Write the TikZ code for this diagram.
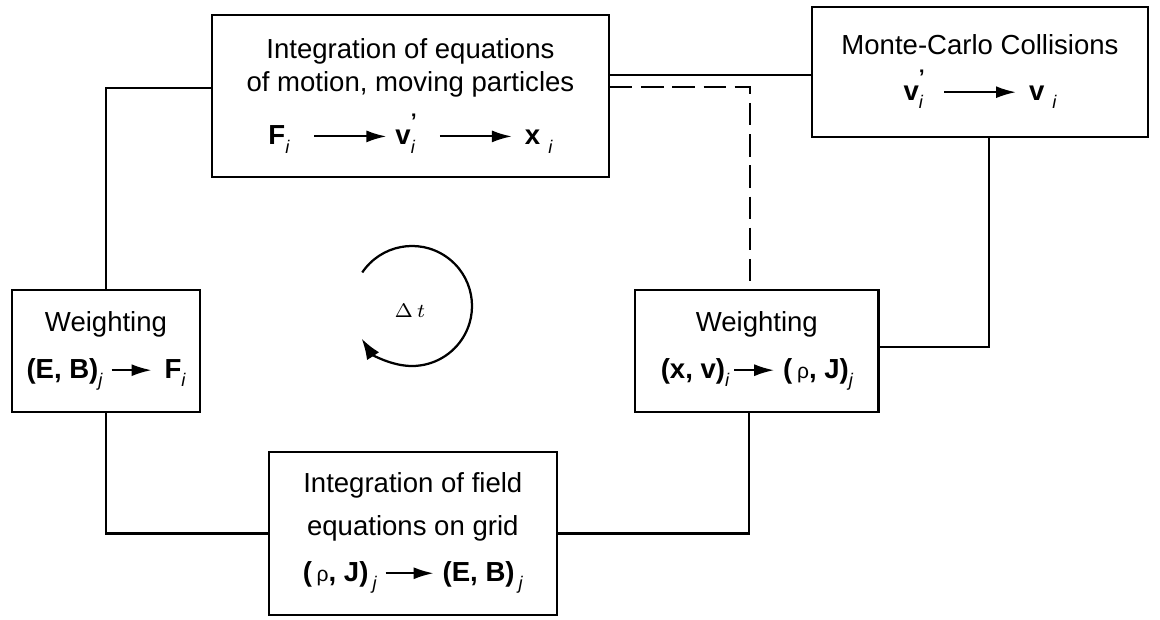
\documentclass[tikz,border=0pt]{standalone}
\usepackage{fontspec}
\setmainfont{Liberation Sans}
\usetikzlibrary{arrows.meta,positioning}

% subscript, prime, small arrow and rho used in the box formulas
\newcommand{\idx}[1]{\raisebox{-0.6ex}{\fontsize{6.5}{7}\selectfont\mdseries\itshape #1}}
\newcommand{\prm}{\rlap{\raisebox{1.1ex}{\fontsize{7.5}{7}\selectfont\bfseries '}}}
\newcommand{\longarr}[1]{\tikz[baseline=-0.55ex]\draw[line width=0.75pt, -{Latex[length=2.5mm,width=1.5mm]}] (0,0) -- (#1,0);}
\newcommand{\rh}{{\mdseries\fontsize{7.5}{8}\selectfont ρ}}

\begin{document}
\begin{tikzpicture}[
    font=\fontsize{9.8}{11.7}\selectfont,
    blk/.style={rectangle, draw=black, line width=0.8pt, align=center, inner sep=0pt},
    wire/.style={draw=black, line width=0.8pt},
    dwire/.style={wire, dash pattern=on 2.8mm off 1.1mm},
    turn/.style={line width=0.8pt, -{Latex[length=2.6mm,width=1.8mm]}}
]
\useasboundingbox (0,0) rectangle (14.5,7.7375);

% ---- Particle mover ----
\node[blk, minimum width=49.6mm, minimum height=20.25mm] (motion) at (5.13,6.54)
    {Integration of equations\\of motion, moving particles\\[5pt]
     \textbf{F}\idx{i}\hspace{3mm}\longarr{9mm}\hspace{1mm}\textbf{v}\prm\idx{i}\hspace{3mm}\longarr{9mm}\hspace{1.5mm}\textbf{x}\hspace{1mm}\idx{i}};

% ---- Collisions ----
\node[blk, minimum width=42mm, minimum height=16.25mm] (mcc) at (12.25,6.84)
    {Monte-Carlo Collisions\\[4.5pt]
     \textbf{v}\prm\idx{i}\hspace{2.5mm}\longarr{9mm}\hspace{1.5mm}\textbf{v}\hspace{1mm}\idx{i}};

% ---- Weightings ----
\node[blk, minimum width=23.5mm, minimum height=15.25mm] (wleft) at (1.325,3.35)
    {Weighting\\[5pt]\textbf{(E, B)}\idx{j}\hspace{1mm}\longarr{5mm}\hspace{1.5mm}\textbf{F}\idx{i}};
\node[blk, minimum width=30.4mm, minimum height=15.25mm] (wright) at (9.46,3.35)
    {Weighting\\[5pt]\textbf{(x, v)}\idx{i}\hspace{0.5mm}\longarr{5mm}\hspace{1mm}\textbf{(\,\rh, J)}\idx{j}};

% ---- Field solver ----
\node[blk, minimum width=36mm, minimum height=20.4mm] (field) at (5.16,1.07)
    {Integration of field\\[3.5pt]equations on grid\\[4.5pt]
     \textbf{(\,\rh, J)}\hspace{0.5mm}\idx{j}\hspace{1mm}\longarr{6mm}\hspace{1mm}\textbf{(E, B)}\hspace{0.5mm}\idx{j}};

% ---- Connections ----
\draw[wire] (wleft.north) |- ([yshift=1mm]motion.west);
\draw[wire] (wleft.south) |- (field.west);
\draw[wire] (field.east) -| ([xshift=-1mm]wright.south);
\draw[wire] ([yshift=0.5mm]wright.east) -| ([xshift=1.1mm]mcc.south);
\coordinate (mtop) at ([yshift=2.6mm]motion.east);
\draw[wire] (mtop) -- (mtop -| mcc.west);
\coordinate (mdash) at ([yshift=1.1mm]motion.east);
\draw[dwire] (mdash) -| ([xshift=-0.85mm]wright.north);

% ---- Time step loop ----
\coordinate (loopc) at (5.15,3.9125);
\node[font=\fontsize{7.5}{8}\selectfont] (dt) at (5.125,3.85) {$\Delta\,t$};
\draw[turn] ([shift={(146:7.5mm)}]loopc) arc[start angle=146, end angle=-147, radius=7.5mm];

\end{tikzpicture}
\end{document}
